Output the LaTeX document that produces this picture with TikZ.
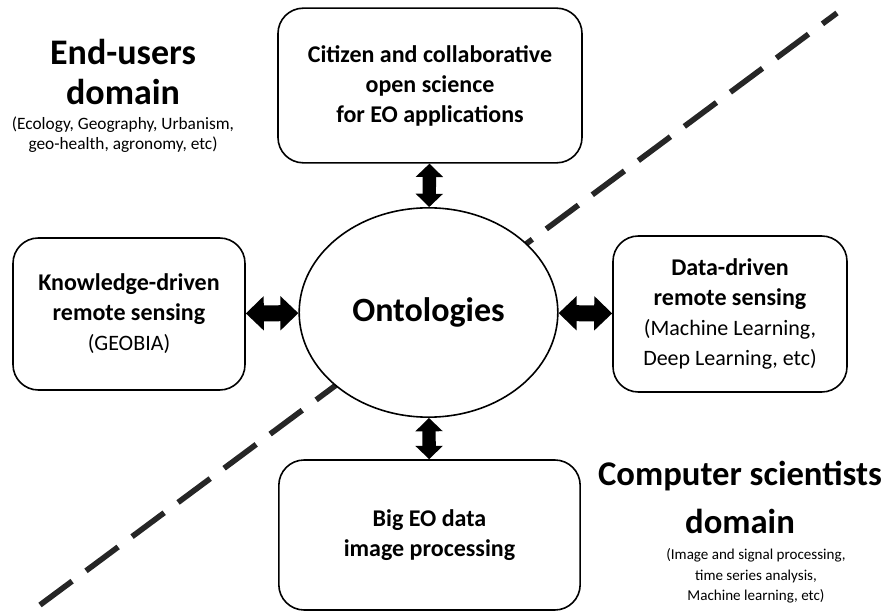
\documentclass[tikz,border=0pt]{standalone}
\usepackage{fontspec}
\setmainfont{Carlito}
\usetikzlibrary{arrows.meta,shapes.geometric}

\tikzset{every picture/.style={line width=0.75pt}}
\tikzset{
  rbox/.style={draw, line width=1.2pt, rounded corners=19pt, fill=white, align=center, inner sep=0pt,
    font=\fontsize{16.5pt}{22.5pt}\selectfont},
  varrow/.style={line width=10pt, {Triangle[width=20pt,length=10pt]}-{Triangle[width=20pt,length=10pt]}},
  harrow/.style={line width=12pt, {Triangle[width=25pt,length=13.5pt]}-{Triangle[width=25pt,length=13.5pt]}},
  domtitle/.style={align=center, inner sep=0pt, font=\fontsize{27pt}{30pt}\selectfont\bfseries},
}
\newcommand{\bl}[1]{{\fontsize{18pt}{22.5pt}\selectfont\bfseries #1}}

\begin{document}
\begin{tikzpicture}[x=0.75pt,y=0.75pt,yscale=-1,xscale=1]
    \useasboundingbox (0,0) rectangle (883,613);
    % domain separator
    \coordinate (sepA) at (40,605);
    \coordinate (sepB) at (837,13);
    \draw [black!85, line width=4.2pt, dash pattern=on 30pt off 13pt] (sepA) -- (sepB);

    \draw (428.5,312.5) node (onto) [draw, ellipse, fill=white, line width=1.2pt, minimum width=194pt, minimum height=157pt, inner sep=0pt,
      font=\fontsize{25.5pt}{30pt}\selectfont\bfseries] {Ontologies};

    \draw (430,85.5) node (citizen) [rbox, minimum width=228pt, minimum height=116pt] {\bl{Citizen and collaborative}\\\bl{open science}\\\bl{for EO applications}};
    \draw (129,314) node (know) [rbox, minimum width=174pt, minimum height=114pt] {\bl{Knowledge-driven}\\\bl{remote sensing}\\(GEOBIA)};
    \draw (730,314) node (data) [rbox, minimum width=175.5pt, minimum height=117pt] {\bl{Data-driven}\\\bl{remote sensing}\\(Machine Learning,\\Deep Learning, etc)};
    \draw (429.5,535) node (bigeo) [rbox, minimum width=226pt, minimum height=112.5pt] {\bl{Big EO data}\\\bl{image processing}};

    % links
    \draw [varrow] (citizen) -- (onto);
    \draw [varrow] (onto) -- (bigeo);
    \draw [harrow] (know) -- (onto);
    \draw [harrow] (onto) -- (data);

    % domains
    \draw (123,72) node (enduser) [domtitle] {End-users\\domain};
    \draw (123,135) node (enduserlist) [align=center, inner sep=0pt, font=\fontsize{13pt}{15pt}\selectfont] {(Ecology, Geography, Urbanism,\\geo-health, agronomy, etc)};
    \draw (740,497) node (compsci) [domtitle, font=\fontsize{26pt}{36pt}\selectfont\bfseries] {Computer scientists\\domain};
    \draw (756,576) node (compscilist) [align=center, inner sep=0pt, font=\fontsize{11.3pt}{15.5pt}\selectfont] {(Image and signal processing,\\time series analysis,\\Machine learning, etc)};
\end{tikzpicture}
\end{document}
